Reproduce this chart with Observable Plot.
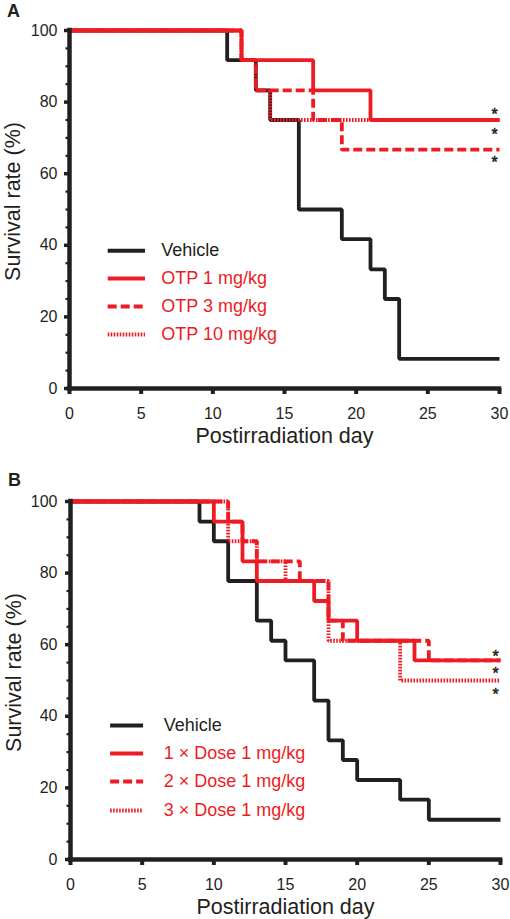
<!DOCTYPE html>
<html><head><meta charset="utf-8">
<script src="https://cdn.jsdelivr.net/npm/d3@7"></script>
<script src="https://cdn.jsdelivr.net/npm/@observablehq/plot@0.6"></script>
<style>
html,body{margin:0;padding:0;background:#fff;}
#chart svg{display:block;}
</style></head><body><div id="chart"></div>
<script>
// ---------- Panel A data (n = 12 per group) ----------
const seriesNamesA = ["Vehicle", "OTP 1 mg/kg", "OTP 3 mg/kg", "OTP 10 mg/kg"];
const daysA_vehicle = [0, 11, 13, 14, 16, 19, 21, 22, 23, 30];
const survA_vehicle = [100, 91.7, 83.3, 75, 50, 41.7, 33.3, 25, 8.3, 8.3];
const daysA_otp1 = [0, 12, 17, 21, 30];
const survA_otp1 = [100, 91.7, 83.3, 75, 75];
const daysA_otp3 = [0, 12, 13, 17, 19, 30];
const survA_otp3 = [100, 91.7, 83.3, 75, 66.7, 66.7];
const daysA_otp10 = [0, 12, 13, 14, 30];
const survA_otp10 = [100, 91.7, 83.3, 75, 75];

// ---------- Panel B data (n = 18 per group) ----------
const seriesNamesB = ["Vehicle", "1 \u00d7 Dose 1 mg/kg", "2 \u00d7 Dose 1 mg/kg", "3 \u00d7 Dose 1 mg/kg"];
const daysB_vehicle = [0, 9, 10, 11, 13, 14, 15, 17, 18, 19, 20, 23, 25, 30];
const survB_vehicle = [100, 94.4, 88.9, 77.8, 66.7, 61.1, 55.6, 44.4, 33.3, 27.8, 22.2, 16.7, 11.1, 11.1];
const daysB_dose1 = [0, 10, 12, 13, 17, 18, 20, 24, 30];
const survB_dose1 = [100, 94.4, 83.3, 77.8, 72.2, 66.7, 61.1, 55.6, 55.6];
const daysB_dose2 = [0, 11, 12, 13, 16, 18, 19, 25, 30];
const survB_dose2 = [100, 94.4, 88.9, 83.3, 77.8, 66.7, 61.1, 55.6, 55.6];
const daysB_dose3 = [0, 11, 13, 15, 18, 23, 30];
const survB_dose3 = [100, 88.9, 83.3, 77.8, 61.1, 50, 50];

// ---------- axes ----------
const xTicks = [0, 5, 10, 15, 20, 25, 30];
const yTicks = [0, 20, 40, 60, 80, 100];
const yMinorTicks = [5, 10, 15, 25, 30, 35, 45, 50, 55, 65, 70, 75, 85, 90, 95];
const xLabel = "Postirradiation day";
const yLabel = "Survival rate (%)";
// significance markers: which series (index) and whether above/below its final value
const starsA = [{s: 1, pos: "above"}, {s: 3, pos: "below"}, {s: 2, pos: "below"}];
const starsB = [{s: 1, pos: "above"}, {s: 2, pos: "below"}, {s: 3, pos: "below"}];

const RED = "#ed1c24", BLACK = "#231f20";
const FONT = "'Liberation Sans', Arial, Helvetica, sans-serif";
const styles = [
  {stroke: BLACK, dash: null},
  {stroke: RED, dash: null},
  {stroke: RED, dash: "9,4"},
  {stroke: RED, dash: "1.6,1.4"}
];
const drawOrder = [0, 3, 2, 1];

function toRows(names, days, survs) {
  return names.map((name, i) => days[i].map((d, j) => ({series: name, idx: i, day: d, surv: survs[i][j]})));
}

function panel(cfg) {
  const rows = toRows(cfg.names, cfg.days, cfg.survs);
  const marks = [];
  // axis ticks
  marks.push(Plot.axisY({ticks: yMinorTicks, tickSize: 3.5, tickFormat: () => "", strokeWidth: 2.2, label: null, color: BLACK}));
  marks.push(Plot.axisY({ticks: yTicks, tickSize: 5, tickPadding: cfg.yPad, strokeWidth: 3.5, label: null, color: BLACK, fontSize: 16}));
  marks.push(Plot.axisX({ticks: xTicks, tickSize: 6, tickPadding: 13, strokeWidth: 4, label: null, color: BLACK, fontSize: 16}));
  // series
  for (const i of drawOrder) {
    marks.push(Plot.line(rows[i], {x: "day", y: "surv", curve: "step-after", stroke: styles[i].stroke,
      strokeWidth: 3.8, strokeDasharray: styles[i].dash, strokeLinejoin: "miter", strokeLinecap: "butt"}));
  }
  // axis lines
  marks.push(Plot.ruleX([0], {stroke: BLACK, strokeWidth: 4.5, strokeLinecap: "square"}));
  marks.push(Plot.ruleY([0], {stroke: BLACK, strokeWidth: 4.5, strokeLinecap: "square"}));
  // stars
  cfg.stars.forEach((st, k) => {
    const vals = cfg.survs[st.s];
    const finalVal = vals[vals.length - 1];
    marks.push(Plot.text([finalVal], {x: 30, y: d => d, text: () => "*", dx: -5,
      dy: cfg.starDy[k], fontSize: 16, fill: BLACK, stroke: BLACK, strokeWidth: 0.5,
      lineAnchor: "middle", textAnchor: "middle"}));
  });
  // legend
  cfg.names.forEach((name, i) => {
    const ly = cfg.legendY[i];
    marks.push(Plot.ruleY([ly], {x1: cfg.legendX[0], x2: cfg.legendX[1], stroke: styles[i].stroke,
      strokeWidth: 4, strokeDasharray: styles[i].dash}));
    marks.push(Plot.text([name], {x: cfg.legendX[2], y: ly, text: d => d, textAnchor: "start",
      lineAnchor: "middle", fontSize: 18, fill: styles[i].stroke}));
  });
  // titles
  marks.push(Plot.text([xLabel], {frameAnchor: "bottom", dy: 48, text: d => d, fontSize: 21.5, fill: BLACK,
    lineAnchor: "middle", textAnchor: "middle"}));
  marks.push(Plot.text([yLabel], {frameAnchor: "left", dx: -56, dy: -8, rotate: -90, text: d => d, fontSize: 21.5,
    fill: BLACK, lineAnchor: "middle", textAnchor: "middle"}));
  marks.push(Plot.text([cfg.letter], {frameAnchor: "top-left", dx: -56, dy: cfg.letterDy, text: d => d, fontSize: 18,
    fontWeight: "bold", fill: BLACK, lineAnchor: "middle", textAnchor: "middle"}));

  return Plot.plot({
    width: 510, height: cfg.height,
    marginLeft: cfg.marginLeft, marginRight: cfg.marginRight, marginTop: cfg.marginTop, marginBottom: cfg.marginBottom,
    x: {domain: [0, 30], label: null},
    y: {domain: [0, 100], label: null},
    style: {fontFamily: FONT, background: "#fff", color: BLACK, overflow: "visible"},
    marks
  });
}

const chart = document.getElementById("chart");
chart.appendChild(panel({
  letter: "A", names: seriesNamesA,
  days: [daysA_vehicle, daysA_otp1, daysA_otp3, daysA_otp10],
  survs: [survA_vehicle, survA_otp1, survA_otp3, survA_otp10],
  stars: starsA, starDy: [-5.5, 14.5, 13],
  height: 460, marginLeft: 69, marginRight: 11, marginTop: 30, marginBottom: 72, yPad: 7,
  legendX: [2.7, 5.3, 6.4], legendY: [38.5, 30.7, 22.9, 15.1], letterDy: -19
}));
chart.appendChild(panel({
  letter: "B", names: seriesNamesB,
  days: [daysB_vehicle, daysB_dose1, daysB_dose2, daysB_dose3],
  survs: [survB_vehicle, survB_dose1, survB_dose2, survB_dose3],
  stars: starsB, starDy: [-4, 13, 14],
  height: 459, marginLeft: 70, marginRight: 10, marginTop: 41, marginBottom: 60, yPad: 8,
  legendX: [2.8, 5.1, 6.5], legendY: [37.4, 29.6, 21.8, 13.7], letterDy: -21
}));
</script></body></html>
